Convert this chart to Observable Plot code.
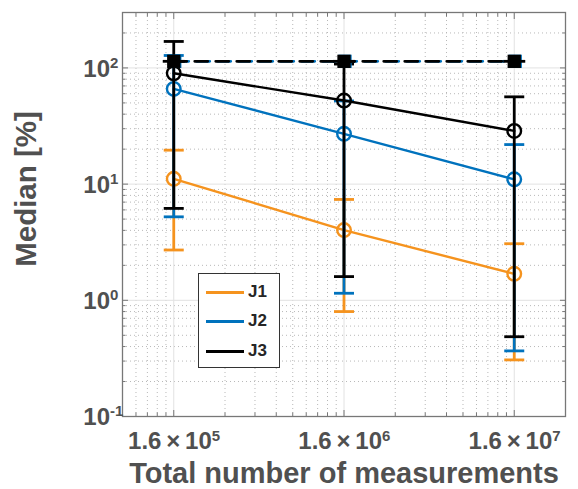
<!DOCTYPE html>
<html>
<head>
<meta charset="utf-8">
<script src="https://cdn.jsdelivr.net/npm/d3@7"></script>
<script src="https://cdn.jsdelivr.net/npm/@observablehq/plot@0.6"></script>
<style>
  body { margin: 0; background: #fff; }
  #wrap { position: relative; width: 578px; height: 489px; }
  #legend { position: absolute; left: 198px; top: 273px; width: 82px; height: 95px;
    border: 1px solid #333; background: #fff; box-sizing: border-box;
    font: bold 17px "Liberation Sans", Arial, sans-serif; color: #262626; }
  .item { position: absolute; left: 0; height: 20px; width: 80px; }
  .item .swatch { position: absolute; left: 7px; width: 38px; height: 3px; top: 9px; }
  .item .lab { position: absolute; left: 49px; top: 0; line-height: 20px; }
</style>
</head>
<body>
<div id="wrap"><div id="legend"></div></div>
<script>
// ---- data ----
const xs = [1.6e5, 1.6e6, 1.6e7];
const names = ["J1", "J2", "J3"];
const colors = ["#F5931E", "#0072BD", "#000000"];

const j1Median = [11.1, 4.02, 1.69];
const j1Low    = [2.71, 0.80, 0.307];
const j1High   = [19.6, 7.38, 3.07];

const j2Median = [66, 27.1, 11.0];
const j2Low    = [5.23, 1.15, 0.367];
const j2High   = [128, 52, 21.9];

const j3Median = [90, 52.4, 28.7];
const j3Low    = [6.18, 1.6, 0.486];
const j3High   = [169, 108, 56.4];

const refLevel = [114, 114, 114];

const xTicks = [1.6e5, 1.6e6, 1.6e7];
const xTickBase = "1.6\u2009×\u200910";
const xTickExp = ["5", "6", "7"];
const yTicks = [0.1, 1, 10, 100];
const yTickExp = ["-1", "0", "1", "2"];

const xMinor = [];
for (const base of [1.6e4, 1.6e5, 1.6e6]) for (let k = 2; k <= 9; k++) {
  const v = base * k; if (v > 8.1e4 && v < 3.19e7 && !xTicks.includes(v)) xMinor.push(v);
}
const yMinor = [];
for (const base of [0.1, 1, 10, 100]) for (let k = 2; k <= 9; k++) {
  const v = base * k; if (v < 299) yMinor.push(v);
}

const seriesMedian = [j1Median, j2Median, j3Median];
const seriesLow = [j1Low, j2Low, j3Low];
const seriesHigh = [j1High, j2High, j3High];

const tables = names.map((n, s) => xs.map((x, i) => ({
  x, m: seriesMedian[s][i], lo: seriesLow[s][i], hi: seriesHigh[s][i]
})));
const refTable = xs.map((x, i) => ({x, y: refLevel[i]}));

// ---- marks ----
const cap = { draw(ctx, size) { const r = Math.sqrt(size / Math.PI); ctx.moveTo(-r, 0); ctx.lineTo(r, 0); } };

function seriesMarks(data, color) {
  return [
    Plot.ruleX(data, {x: "x", y1: "lo", y2: "hi", stroke: color, strokeWidth: 2.8}),
    Plot.dot(data, {x: "x", y: "lo", symbol: cap, r: 10, stroke: color, strokeWidth: 2.8, fill: "none"}),
    Plot.dot(data, {x: "x", y: "hi", symbol: cap, r: 10, stroke: color, strokeWidth: 2.8, fill: "none"}),
    Plot.line(data, {x: "x", y: "m", stroke: color, strokeWidth: 2.4}),
    Plot.dot(data, {x: "x", y: "m", r: 6.8, stroke: color, strokeWidth: 2.4, fill: "none"})
  ];
}

const axisColor = "#777";
const labelColor = "#505050";
const font = "Liberation Sans, Arial, sans-serif";
const noLabel = {tickFormat: () => "", label: null, stroke: axisColor};
const txt = {fontWeight: "bold", fill: labelColor, lineAnchor: "middle"};

const chart = Plot.plot({
  width: 578, height: 489,
  marginLeft: 122, marginRight: 13, marginTop: 12, marginBottom: 73,
  style: {background: "white", fontFamily: font, overflow: "visible"},
  x: {type: "log", domain: [8e4, 3.2e7], axis: null},
  y: {type: "log", domain: [0.1, 300], axis: null},
  marks: [
    Plot.ruleX(xMinor, {x: d => d, stroke: "#b8b8b8", strokeDasharray: "1,3", strokeWidth: 1}),
    Plot.ruleY(yMinor, {y: d => d, stroke: "#b8b8b8", strokeDasharray: "1,3", strokeWidth: 1}),
    Plot.ruleX(xTicks, {x: d => d, stroke: "#e2e2e2", strokeWidth: 1}),
    Plot.ruleY(yTicks, {y: d => d, stroke: "#e2e2e2", strokeWidth: 1}),
    ...seriesMarks(tables[0], colors[0]),
    ...seriesMarks(tables[1], colors[1]),
    ...seriesMarks(tables[2], colors[2]),
    Plot.line(refTable, {x: "x", y: "y", stroke: colors[1], strokeWidth: 2.8, strokeDasharray: "13,8", strokeDashoffset: -2}),
    Plot.dot(refTable, {x: "x", y: "y", symbol: "square", r: 7.5, fill: colors[1], dx: 1}),
    Plot.line(refTable, {x: "x", y: "y", stroke: colors[2], strokeWidth: 2.8, strokeDasharray: "13,8"}),
    Plot.dot(refTable, {x: "x", y: "y", symbol: cap, r: 11, stroke: colors[2], strokeWidth: 2.8, fill: "none"}),
    Plot.dot(refTable, {x: "x", y: "y", symbol: "square", r: 7.5, fill: colors[2]}),
    Plot.frame({stroke: axisColor, strokeWidth: 1.3}),
    Plot.axisX(xTicks, {anchor: "bottom", tickSize: -6, ...noLabel}),
    Plot.axisX(xTicks, {anchor: "top", tickSize: -6, ...noLabel}),
    Plot.axisX(xMinor, {anchor: "bottom", tickSize: -3.5, ...noLabel}),
    Plot.axisX(xMinor, {anchor: "top", tickSize: -3.5, ...noLabel}),
    Plot.axisY(yTicks, {anchor: "left", tickSize: -6, ...noLabel}),
    Plot.axisY(yTicks, {anchor: "right", tickSize: -6, ...noLabel}),
    Plot.axisY(yMinor, {anchor: "left", tickSize: -3.5, ...noLabel}),
    Plot.axisY(yMinor, {anchor: "right", tickSize: -3.5, ...noLabel}),
    // tick labels
    Plot.text(yTicks, {y: d => d, frameAnchor: "left", text: () => "10", textAnchor: "end", dx: -12.5, dy: 1,
      fontSize: 24, ...txt}),
    Plot.text(yTicks, {y: d => d, frameAnchor: "left", text: (d, i) => yTickExp[i], textAnchor: "start", dx: -12.5, dy: -5,
      fontSize: 15, ...txt}),
    Plot.text(xTicks, {x: d => d, frameAnchor: "bottom", text: () => xTickBase, textAnchor: "end", dx: 38, dy: 25,
      fontSize: 24, ...txt}),
    Plot.text(xTicks, {x: d => d, frameAnchor: "bottom", text: (d, i) => xTickExp[i], textAnchor: "start", dx: 38, dy: 20,
      fontSize: 15, ...txt}),
    // axis titles
    Plot.text(["Total number of measurements"], {text: d => d, frameAnchor: "bottom", textAnchor: "middle", dy: 57,
      fontSize: 29, ...txt}),
    Plot.text(["Median [%]"], {text: d => d, frameAnchor: "left", textAnchor: "middle", rotate: -90, dx: -96, dy: -25.5,
      fontSize: 29.5, ...txt})
  ]
});

const wrap = document.getElementById("wrap");
wrap.insertBefore(chart, wrap.firstChild);

// legend
const legend = document.getElementById("legend");
const rowTops = [8, 37, 67];
names.forEach((n, i) => {
  const row = document.createElement("div");
  row.className = "item";
  row.style.top = rowTops[i] + "px";
  const sw = document.createElement("div");
  sw.className = "swatch"; sw.style.background = colors[i];
  const lab = document.createElement("div");
  lab.className = "lab"; lab.textContent = n;
  row.appendChild(sw); row.appendChild(lab);
  legend.appendChild(row);
});
</script>
</body>
</html>
